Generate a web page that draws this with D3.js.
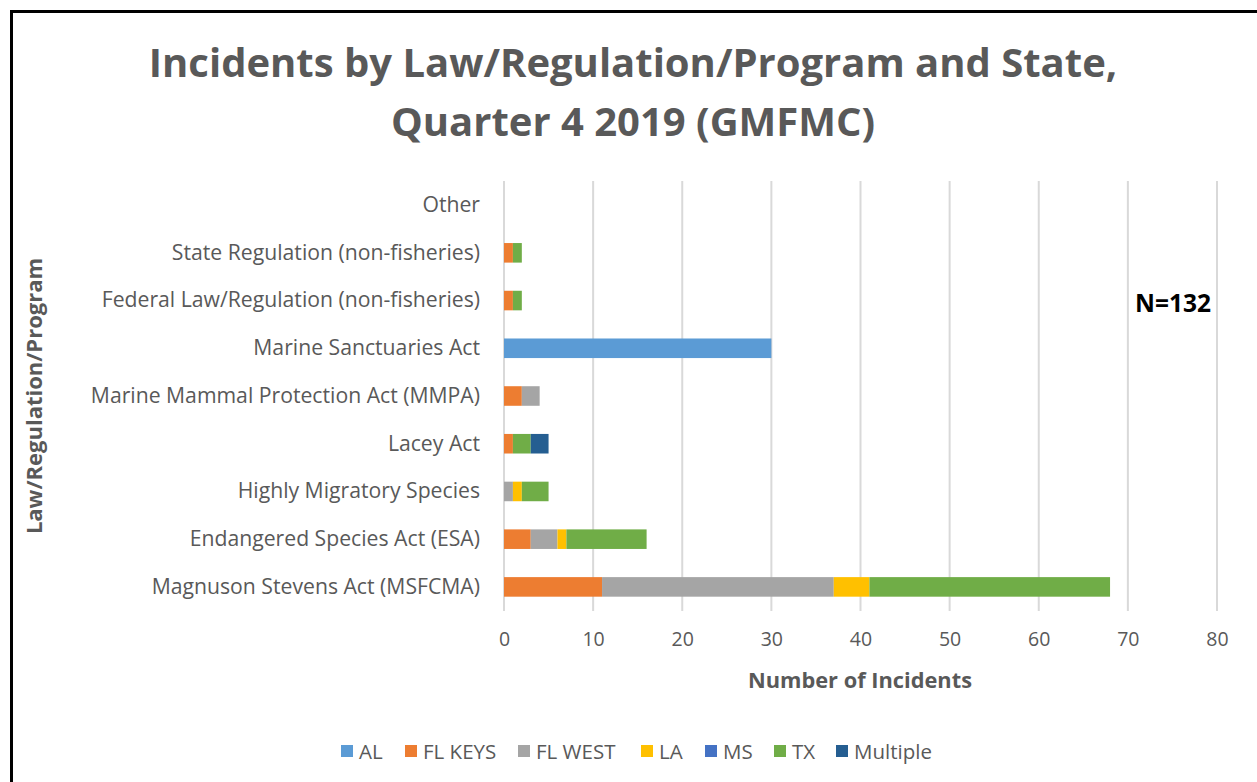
<!DOCTYPE html>
<html>
<head>
<meta charset="utf-8">
<script src="https://cdn.jsdelivr.net/npm/d3@7"></script>
<style>
  body { margin: 0; background: #fff; }
  text { font-family: "Open Sans", sans-serif; }
</style>
</head>
<body>
<div id="chart"></div>
<script>
// data
var categories = ["Magnuson Stevens Act (MSFCMA)", "Endangered Species Act (ESA)", "Highly Migratory Species",
  "Lacey Act", "Marine Mammal Protection Act (MMPA)", "Marine Sanctuaries Act",
  "Federal Law/Regulation (non-fisheries)", "State Regulation (non-fisheries)", "Other"];
var states = ["AL", "FL KEYS", "FL WEST", "LA", "MS", "TX", "Multiple"];
var colors = ["#5B9BD5", "#ED7D31", "#A5A5A5", "#FFC000", "#4472C4", "#70AD47", "#255E91"];
var AL       = [0, 0, 0, 0, 0, 30, 0, 0, 0];
var FL_KEYS  = [11, 3, 0, 1, 2, 0, 1, 1, 0];
var FL_WEST  = [26, 3, 1, 0, 2, 0, 0, 0, 0];
var LA       = [4, 1, 1, 0, 0, 0, 0, 0, 0];
var MS       = [0, 0, 0, 0, 0, 0, 0, 0, 0];
var TX       = [27, 9, 3, 2, 0, 0, 1, 1, 0];
var Multiple = [0, 0, 0, 2, 0, 0, 0, 0, 0];
var xTicks = [0, 10, 20, 30, 40, 50, 60, 70, 80];

var series = [AL, FL_KEYS, FL_WEST, LA, MS, TX, Multiple];
var table = categories.map(function(c, i) {
  var row = {cat: c};
  states.forEach(function(s, j) { row[s] = series[j][i]; });
  return row;
});

var W = 1257, H = 782;
var margin = {top: 181, right: 40, bottom: 171, left: 504},
    width = 1217 - margin.left,
    height = 611 - margin.top;

var svg = d3.select("#chart").append("svg")
  .attr("width", W).attr("height", H);

// outer frame
svg.append("rect")
  .attr("x", 11.5).attr("y", 11.5)
  .attr("width", W + 20).attr("height", H + 20)
  .attr("fill", "none").attr("stroke", "#000").attr("stroke-width", 3);

// title
svg.append("text").attr("x", 633).attr("y", 77).attr("text-anchor", "middle")
  .attr("font-size", 40).attr("font-weight", "bold").attr("fill", "#595959")
  .text("Incidents by Law/Regulation/Program and State,");
svg.append("text").attr("x", 633).attr("y", 136).attr("text-anchor", "middle")
  .attr("font-size", 40).attr("font-weight", "bold").attr("fill", "#595959")
  .text("Quarter 4 2019 (GMFMC)");

var g = svg.append("g").attr("transform", "translate(" + margin.left + "," + margin.top + ")");

var x = d3.scaleLinear().domain([0, 80]).range([0, width]);
var y = d3.scaleBand().domain(categories.slice().reverse()).range([0, height]).paddingInner(0.59).paddingOuter(0.3);

// gridlines
g.selectAll(".grid").data(xTicks).enter().append("line")
  .attr("x1", function(d) { return x(d); }).attr("x2", function(d) { return x(d); })
  .attr("y1", 0).attr("y2", height)
  .attr("stroke", "#D9D9D9").attr("stroke-width", 2);

// stacked bars
var stack = d3.stack().keys(states)(table);
g.selectAll(".layer").data(stack).enter().append("g")
  .attr("fill", function(d, i) { return colors[i]; })
  .selectAll("rect").data(function(d) { return d; }).enter().append("rect")
    .attr("x", function(d) { return x(d[0]); })
    .attr("y", function(d) { return y(d.data.cat); })
    .attr("width", function(d) { return x(d[1]) - x(d[0]); })
    .attr("height", y.bandwidth());

// x axis
var xAxis = g.append("g").attr("transform", "translate(0," + height + ")")
  .call(d3.axisBottom(x).tickValues(xTicks).tickSize(0).tickPadding(21));
xAxis.select(".domain").remove();
xAxis.selectAll("text").attr("font-size", 19.5).attr("fill", "#595959")
  .attr("font-family", "Open Sans, sans-serif");

// y axis
var yAxis = g.append("g")
  .call(d3.axisLeft(y).tickSize(0).tickPadding(24));
yAxis.select(".domain").remove();
yAxis.selectAll("text").attr("font-size", 21.2).attr("fill", "#595959")
  .attr("font-family", "Open Sans, sans-serif");

// axis titles
svg.append("text").attr("x", 860).attr("y", 688).attr("text-anchor", "middle")
  .attr("font-size", 21.8).attr("font-weight", "bold").attr("fill", "#595959")
  .text("Number of Incidents");
svg.append("text").attr("transform", "translate(42,396) rotate(-90)").attr("text-anchor", "middle")
  .attr("font-size", 22).attr("font-weight", "bold").attr("fill", "#595959")
  .text("Law/Regulation/Program");

// N label
svg.append("text").attr("x", 1173).attr("y", 312).attr("text-anchor", "middle")
  .attr("font-size", 24.5).attr("font-weight", "bold").attr("fill", "#000")
  .text("N=132");

// legend
var legendX = [341, 405, 518, 641, 705, 774, 836];
var legend = svg.append("g");
states.forEach(function(s, i) {
  legend.append("rect").attr("x", legendX[i]).attr("y", 745).attr("width", 12).attr("height", 12)
    .attr("fill", colors[i]);
  legend.append("text").attr("x", legendX[i] + 18).attr("y", 759)
    .attr("font-size", 20.5).attr("fill", "#595959").text(s);
});
</script>
</body>
</html>
